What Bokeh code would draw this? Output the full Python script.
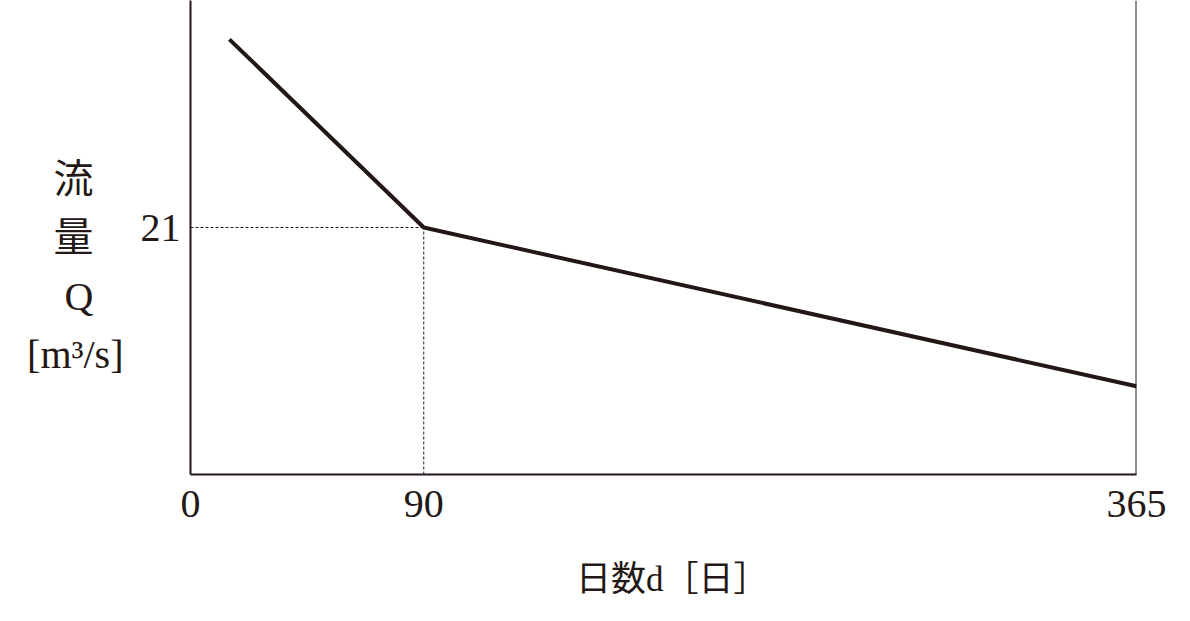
from bokeh.plotting import figure
from bokeh.models import Range1d, FixedTicker, Span
from bokeh.embed import file_html
from bokeh.resources import INLINE

# data
days = [15, 90, 365]
flow = [37.0, 21.0, 7.5]
x_ticks = [0, 90, 365]
y_ticks = [21]
knee_day = 90
knee_flow = 21

INK = "#231815"
SERIF = "Liberation Serif, Noto Sans CJK JP"
NB = "\u00a0"

W, H = 1174, 605
ML, MR, MT, MB = 190, 38, 0, 131
XMAX, YMAX = 365, 40.3

p = figure(width=W, height=H, output_backend="svg", toolbar_location=None,
           x_range=Range1d(0, XMAX), y_range=Range1d(0, YMAX),
           min_border_left=ML, min_border_right=MR, min_border_top=MT, min_border_bottom=MB)
p.outline_line_color = None
p.grid.visible = False
p.background_fill_color = "white"
p.border_fill_color = "white"

for ax in (p.xaxis[0], p.yaxis[0]):
    ax.axis_line_color = INK
    ax.axis_line_width = 2
    ax.major_tick_line_color = None
    ax.minor_tick_line_color = None
    ax.major_label_text_font = SERIF
    ax.major_label_text_font_size = "40px"
    ax.major_label_text_color = INK
    ax.axis_label_text_font = SERIF
    ax.axis_label_text_font_style = "normal"
    ax.axis_label_text_color = INK
p.xaxis[0].ticker = FixedTicker(ticks=x_ticks)
p.yaxis[0].ticker = FixedTicker(ticks=y_ticks)
p.xaxis[0].major_label_standoff = 10
p.yaxis[0].major_label_standoff = 4

p.yaxis[0].axis_label = "\n流" + NB * 3 + "\n量" + NB * 3 + "\nQ" + NB * 3 + "\n[m³/s]"
p.yaxis[0].axis_label_orientation = "horizontal"
p.yaxis[0].axis_label_text_font_size = "40px"
p.yaxis[0].axis_label_text_line_height = 1.3
p.yaxis[0].axis_label_text_align = "center"
p.yaxis[0].axis_label_standoff = 14

p.xaxis[0].axis_label = NB * 2 + "日数d［日］"
p.xaxis[0].axis_label_text_font_size = "35px"
p.xaxis[0].axis_label_standoff = 40

p.add_layout(Span(location=XMAX, dimension="height", line_color=INK, line_width=2))

# dashed guides
p.line([0, knee_day], [knee_flow, knee_flow], line_color=INK, line_width=1, line_dash="3 2")
p.line([knee_day, knee_day], [0, knee_flow], line_color=INK, line_width=1, line_dash="3 2")

p.line(days, flow, line_color=INK, line_width=4)

open("out.html", "w").write(file_html(p, INLINE))
